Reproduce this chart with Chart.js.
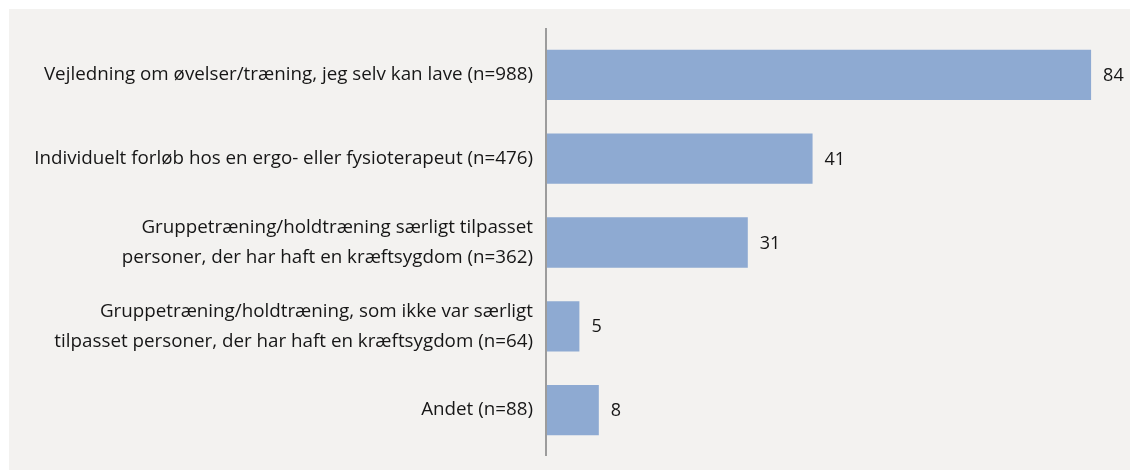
<!DOCTYPE html>
<html lang="da">
<head>
<meta charset="utf-8">
<title>Ønsker til genoptræning</title>
<script src="https://cdn.jsdelivr.net/npm/chart.js@4/dist/chart.umd.min.js"></script>
<style>
    html, body { margin: 0; padding: 0; background: #ffffff; }
    .panel {
        position: absolute;
        left: 9px;
        top: 9px;
        width: 1121px;
        height: 461px;
        background: #f3f2f0;
    }
</style>
</head>
<body>
<div class="panel">
    <canvas id="rehabChart" width="1121" height="461"></canvas>
</div>
<script>
// Kategorier (flere linjer = array)
const categories = [
    'Vejledning om øvelser/træning, jeg selv kan lave (n=988)',
    'Individuelt forløb hos en ergo- eller fysioterapeut (n=476)',
    ['Gruppetræning/holdtræning særligt tilpasset', 'personer, der har haft en kræftsygdom (n=362)'],
    ['Gruppetræning/holdtræning, som ikke var særligt', 'tilpasset personer, der har haft en kræftsygdom (n=64)'],
    'Andet (n=88)'
];

// Procent
const percentValues = [84, 41, 31, 5, 8];

const barColor = '#8eaad2';
const textColor = '#161616';
const fontFamily = '"Open Sans", "Noto Sans", sans-serif';

// Tal ud for hver søjle
const valueLabels = {
    id: 'valueLabels',
    afterDatasetsDraw(chart) {
        const ctx = chart.ctx;
        const meta = chart.getDatasetMeta(0);
        ctx.save();
        ctx.font = '18px ' + fontFamily;
        ctx.fillStyle = textColor;
        ctx.textAlign = 'left';
        ctx.textBaseline = 'middle';
        meta.data.forEach((bar, i) => {
            ctx.fillText(String(percentValues[i]), bar.x + 12, bar.y + 1);
        });
        ctx.restore();
    }
};

// Lodret akselinje, lidt længere end selve plotområdet
const axisLine = {
    id: 'axisLine',
    afterDatasetsDraw(chart) {
        const ctx = chart.ctx;
        const area = chart.chartArea;
        ctx.save();
        ctx.strokeStyle = '#9c9c9c';
        ctx.lineWidth = 2;
        ctx.beginPath();
        ctx.moveTo(area.left - 1, area.top - 5);
        ctx.lineTo(area.left - 1, area.bottom + 4);
        ctx.stroke();
        ctx.restore();
    }
};

const ctxRehab = document.getElementById('rehabChart').getContext('2d');
const rehabChart = new Chart(ctxRehab, {
    type: 'bar',
    data: {
        labels: categories,
        datasets: [{
            data: percentValues,
            backgroundColor: barColor,
            borderWidth: 0,
            categoryPercentage: 1.0,
            barPercentage: 0.6
        }]
    },
    options: {
        indexAxis: 'y',
        responsive: false,
        animation: false,
        layout: {
            padding: { top: 24, bottom: 18, left: 0, right: 13 }
        },
        plugins: {
            legend: { display: false },
            tooltip: { enabled: false }
        },
        scales: {
            x: {
                display: false,
                min: 0,
                max: 88
            },
            y: {
                grid: { display: false, drawTicks: false },
                border: { display: false },
                ticks: {
                    color: textColor,
                    padding: 14,
                    font: { family: fontFamily, size: 18.8, lineHeight: 1.6 }
                },
                afterFit(scale) {
                    // fast bredde, og ingen ekstra luft for øverste/nederste etiket
                    scale.width = 538;
                    scale.paddingTop = 0;
                    scale.paddingBottom = 0;
                }
            }
        }
    },
    plugins: [valueLabels, axisLine]
});
</script>
</body>
</html>
